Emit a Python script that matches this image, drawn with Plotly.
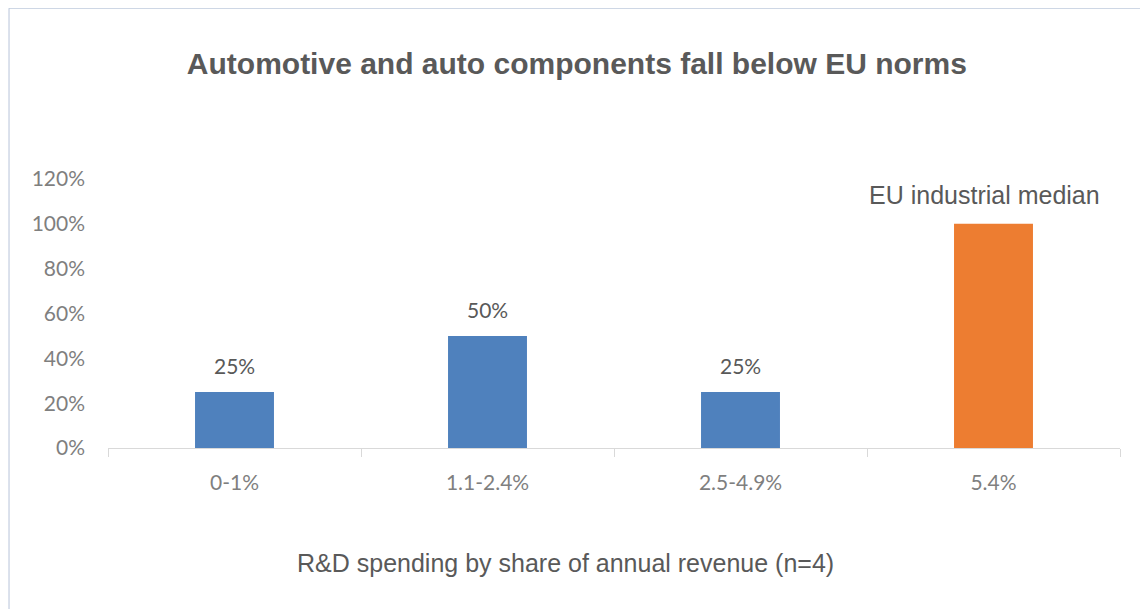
import plotly.graph_objects as go

categories = ["0-1%", "1.1-2.4%", "2.5-4.9%", "5.4%"]
values = [0.25, 0.50, 0.25, 1.00]
bar_colors = ["#4f81bd", "#4f81bd", "#4f81bd", "#ed7d31"]
label_texts = ["25%", "50%", "25%", None]
tick_vals = [0, 0.2, 0.4, 0.6, 0.8, 1.0, 1.2]
tick_text = ["0%", "20%", "40%", "60%", "80%", "100%", "120%"]

TICK_FONT = "Lato, Calibri, Carlito, sans-serif"
ARIAL = "Liberation Sans, Arial, sans-serif"

fig = go.Figure()
fig.add_trace(go.Bar(x=categories, y=values, marker=dict(color=bar_colors, line=dict(width=0)),
                     hoverinfo="skip"))

annotations = []
for c, v, t in zip(categories, values, label_texts):
    if t:
        annotations.append(dict(x=c, y=v, xref="x", yref="y", text=t, showarrow=False,
                                yanchor="middle", yshift=26,
                                font=dict(family=TICK_FONT, size=21, color="#595959")))
annotations.append(dict(x=categories[3], y=values[3], xref="x", yref="y",
                        text="EU industrial median", showarrow=False,
                        yanchor="middle", yshift=29, xshift=-9,
                        font=dict(family=ARIAL, size=25, color="#595959")))
annotations.append(dict(x=0.4516, y=-0.427, xref="paper", yref="paper",
                        xanchor="center", yanchor="middle",
                        text="R&D spending by share of annual revenue (n=4)", showarrow=False,
                        font=dict(family=ARIAL, size=25, color="#595959")))

fig.update_layout(
    width=1140, height=601,
    margin=dict(l=100, r=28, t=171, b=161, pad=0),
    paper_bgcolor="white", plot_bgcolor="white",
    bargap=0.688,
    showlegend=False,
    title=dict(text="<b>Automotive and auto components fall below EU norms</b>",
               x=0.499, xanchor="center", y=0.907, yanchor="middle",
               font=dict(family=ARIAL, size=30, color="#595959")),
    xaxis=dict(type="category", showgrid=False, showline=True, linecolor="#d9d9d9", linewidth=1,
               ticks="outside", tickson="boundaries", ticklen=8, tickcolor="#d9d9d9",
               ticklabelstandoff=16,
               tickfont=dict(family=TICK_FONT, size=21, color="#7f7f7f")),
    yaxis=dict(range=[0, 1.2], tickvals=tick_vals, ticktext=tick_text, showgrid=False,
               zeroline=False, showline=False, ticks="", ticklabelstandoff=22,
               tickfont=dict(family=TICK_FONT, size=21, color="#7f7f7f")),
    annotations=annotations,
    shapes=[dict(type="rect", xref="paper", yref="paper", x0=-0.0978, y0=-0.7, x1=1.2, y1=1.635,
                 line=dict(color="#b7c4d9", width=1), fillcolor="rgba(0,0,0,0)", layer="below")],
)

fig.write_html("out.html")
